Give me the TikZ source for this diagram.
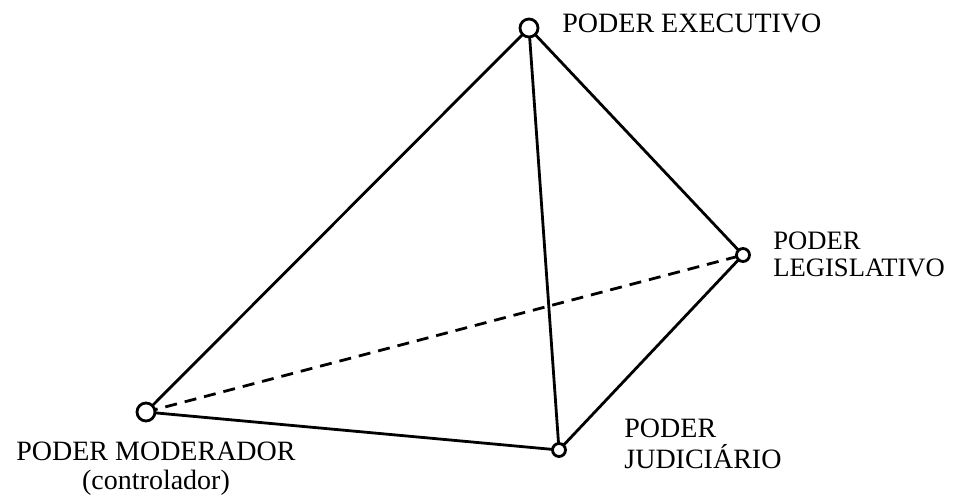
\documentclass[tikz,border=0pt]{standalone}
\usepackage{fontspec}
\setmainfont{Liberation Serif}
\begin{document}
\begin{tikzpicture}[
  x=0.5pt, y=-0.5pt,
  vertex/.style={draw, circle, line width=1.4pt, fill=white, inner sep=0pt},
  big/.style={minimum size=9pt},
  small/.style={minimum size=6.5pt},
  edge/.style={line width=1.4pt},
  label/.style={font=\fontsize{14}{14.5}\selectfont, align=left, inner sep=0pt}
]
\useasboundingbox (0,0) rectangle (956,497);
% vertices of the pyramid
\coordinate (exe) at (529,28);
\coordinate (leg) at (743,255);
\coordinate (mod) at (146,412);
\coordinate (jud) at (559,450);
% edges
\draw[edge, dash pattern=on 6pt off 4pt] (mod) -- (leg);
\draw[edge] (mod) -- (exe) -- (jud) -- (mod);
\draw[edge] (exe) -- (leg) -- (jud);
% circles
\node[vertex, big] (nexe) at (exe) {};
\node[vertex, small] (nleg) at (leg) {};
\node[vertex, big] (nmod) at (mod) {};
\node[vertex, small] (njud) at (jud) {};
% labels
\node[label, anchor=north west] (lexe) at (562,14) {PODER EXECUTIVO};
\node[label, font=\fontsize{13.3}{13.6}\selectfont, anchor=north west] (lleg) at (773,231) {PODER\\LEGISLATIVO};
\node[label, align=center, anchor=north] (lmod) at (156,442) {PODER MODERADOR\\(controlador)};
\node[label, font=\fontsize{14}{15.5}\selectfont, anchor=north west] (ljud) at (624,419) {PODER\\JUDICI\'ARIO};
\end{tikzpicture}
\end{document}
